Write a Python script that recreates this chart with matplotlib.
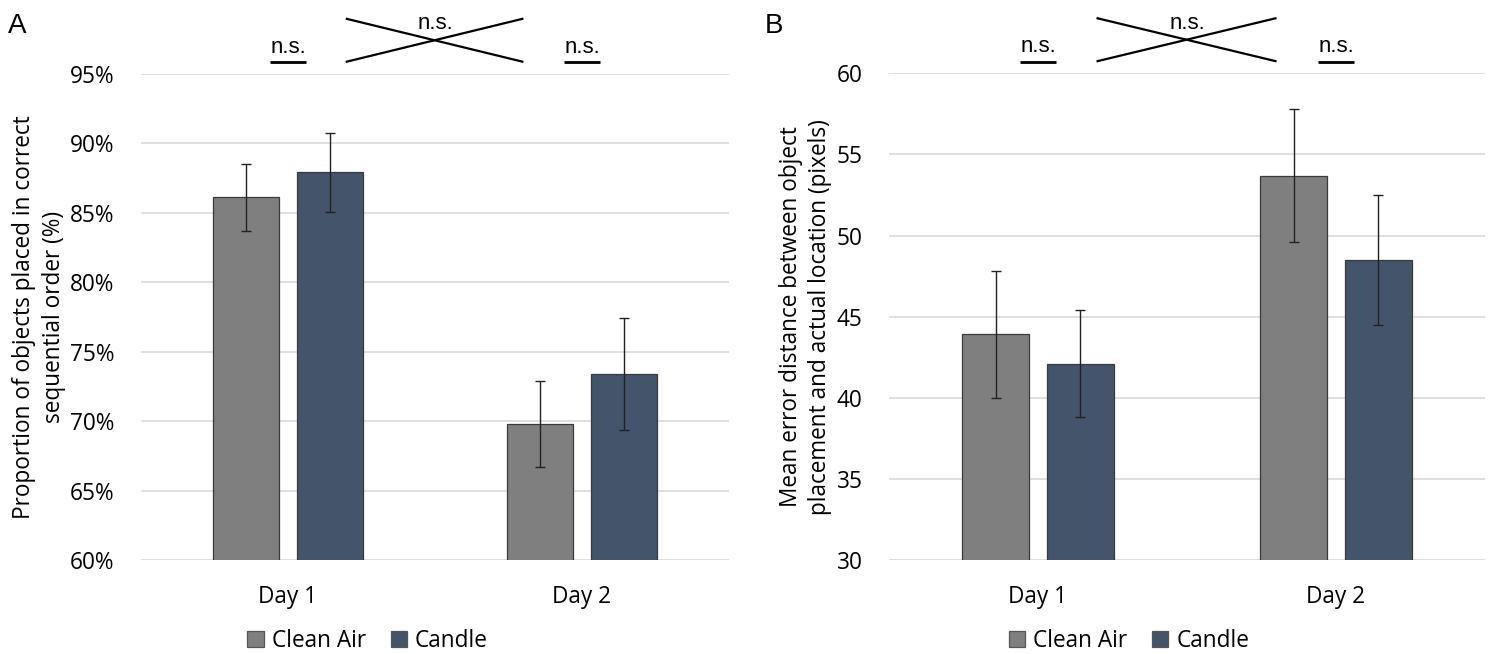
import matplotlib
matplotlib.use("Agg")
import matplotlib.pyplot as plt
import matplotlib.transforms as mtransforms
from matplotlib.patches import Patch
import numpy as np

# ---------------- data ----------------
days = ["Day 1", "Day 2"]
series = ["Clean Air", "Candle"]

a_clean = [86.1, 69.8]
a_clean_err = [2.4, 3.1]
a_candle = [87.9, 73.4]
a_candle_err = [2.85, 4.05]

b_clean = [43.9, 53.7]
b_clean_err = [3.9, 4.1]
b_candle = [42.1, 48.5]
b_candle_err = [3.3, 4.0]

a_ticks = [60, 65, 70, 75, 80, 85, 90, 95]
b_ticks = [30, 35, 40, 45, 50, 55, 60]

a_ylabel = "Proportion of objects placed in correct\nsequential order (%)"
b_ylabel = "Mean error distance between object\nplacement and actual location (pixels)"
sig_label = "n.s."

# ---------------- style ----------------
C_CLEAN = "#7f7f7f"
C_CANDLE = "#44546a"
EDGE = "#3a3a3a"
GRID = "#d9d9d9"
FONT = "Open Sans"
ANN_FONT = "Liberation Sans"
FS = 16.3

W, H = 1492, 654
fig = plt.figure(figsize=(W / 100, H / 100), dpi=100)


def px_axes(left, top, right, bottom):
    return fig.add_axes([left / W, 1 - bottom / H, (right - left) / W, (bottom - top) / H])


axA = px_axes(141, 73.8, 729, 560)
axB = px_axes(889, 73.3, 1485, 560)

x = np.arange(len(days))
bw = 0.225
off = 0.142
ekw = dict(ecolor="#222222", elinewidth=1.0, capsize=3.5, capthick=1.0)


def draw(ax, clean, clean_err, candle, candle_err, ticks, ylabel, fmt):
    ax.bar(x - off, clean, bw, yerr=clean_err, color=C_CLEAN, edgecolor=EDGE,
           linewidth=0.9, error_kw=ekw, zorder=2)
    ax.bar(x + off, candle, bw, yerr=candle_err, color=C_CANDLE, edgecolor=EDGE,
           linewidth=0.9, error_kw=ekw, zorder=2)
    ax.set_xlim(-0.5, 1.5)
    ax.set_ylim(ticks[0], ticks[-1])
    ax.set_yticks(ticks)
    ax.set_yticklabels([fmt(t) for t in ticks], fontsize=FS, family=FONT)
    ax.set_xticks(x)
    ax.set_xticklabels(days, fontsize=FS, family=FONT)
    ax.tick_params(axis="y", length=0, pad=19)
    ax.tick_params(axis="x", length=0, pad=18)
    for s in ax.spines.values():
        s.set_visible(False)
    ax.yaxis.grid(True, color=GRID, linewidth=1.2, zorder=0)
    ax.set_axisbelow(True)
    ax.set_ylabel(ylabel, fontsize=FS, family=FONT, labelpad=3, linespacing=1.3)

    # significance annotations
    tr = mtransforms.blended_transform_factory(ax.transData, ax.transAxes)
    for xi in x:
        ax.plot([xi - 0.062, xi + 0.062], [1.024, 1.024], color="black", lw=2.0,
                transform=tr, clip_on=False, solid_capstyle="butt")
        ax.text(xi, 1.043, sig_label, transform=tr, ha="center", va="baseline",
                fontsize=16, family=ANN_FONT)
    ax.plot([0.2, 0.797], [1.025, 1.113], color="black", lw=1.6, transform=tr, clip_on=False)
    ax.plot([0.2, 0.797], [1.113, 1.025], color="black", lw=1.6, transform=tr, clip_on=False)
    ax.text(0.5, 1.092, sig_label, transform=tr, ha="center", va="baseline",
            fontsize=16, family=ANN_FONT)


draw(axA, a_clean, a_clean_err, a_candle, a_candle_err, a_ticks, a_ylabel,
     lambda t: f"{t:.0f}%")
draw(axB, b_clean, b_clean_err, b_candle, b_candle_err, b_ticks, b_ylabel,
     lambda t: f"{t:.0f}")

# panel letters
fig.text(8 / W, 1 - 33 / H, "A", fontsize=20, family=ANN_FONT, va="baseline", ha="left")
fig.text(765 / W, 1 - 33 / H, "B", fontsize=20, family=ANN_FONT, va="baseline", ha="left")

# legends
handles = [Patch(facecolor=C_CLEAN, edgecolor="#555555", linewidth=0.9),
           Patch(facecolor=C_CANDLE, edgecolor="#555555", linewidth=0.9)]
for cx in (367.5, 1129):
    fig.legend(handles, series, loc="center", bbox_to_anchor=(cx / W, 1 - 641 / H),
               ncol=2, frameon=False, prop=dict(family=FONT, size=FS),
               handlelength=0.72, handleheight=0.72, handletextpad=0.35,
               columnspacing=1.1, borderpad=0, borderaxespad=0)

fig.savefig("out.png", dpi=100)
